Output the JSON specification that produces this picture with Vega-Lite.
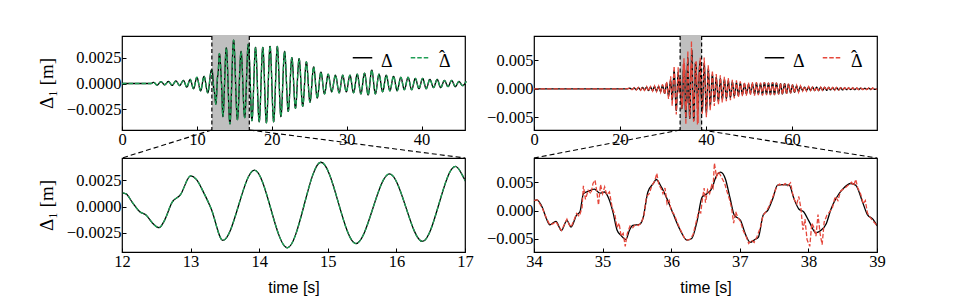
{
"$schema": "https://vega.github.io/schema/vega-lite/v6.json",
"autosize": {"type": "none"},
"padding": {"left": 122, "top": 36, "right": 853, "bottom": 264},
"background": "white",
"config": {
  "view": {"stroke": "black", "strokeWidth": 1.2},
  "font": "Liberation Serif",
  "style": {"guide-label": {"lineHeight": 4}},
  "axis": {"domain": false, "grid": false, "tickSize": -4, "tickColor": "black", "tickWidth": 1, "labelFont": "Liberation Serif", "labelFontSize": 16.5, "labelColor": "black", "labelFlush": false, "labelOverlap": false, "titleColor": "black", "titleFontWeight": "normal"},
  "axisX": {"labelPadding": 5, "titleFont": "Liberation Sans", "titleFontSize": 16, "titlePadding": 10},
  "axisY": {"labelPadding": 5, "titleFont": "Liberation Serif", "titleFontSize": 19, "titlePadding": 10, "titleAngle": 270},
  "legend": {"orient": "none", "legendX": 230, "legendY": 11, "direction": "horizontal", "padding": 0, "labelFont": "Liberation Serif", "labelFontSize": 18, "labelColor": "black", "symbolType": "stroke", "symbolSize": 380, "symbolStrokeWidth": 1.5, "labelOffset": 8, "columnPadding": 14}
},
"datasets": {
  "L": [
    {"t":0,"d":0},{"t":3.9,"d":0},{"t":4.2,"d":0.00012},{"t":4.7,"d":-0.00015},{"t":5.2,"d":0.00018},{"t":5.7,"d":-0.00012},{"t":6.2,"d":0.0002},{"t":6.7,"d":-0.00018},{"t":7.2,"d":0.00025},{"t":7.7,"d":-0.0002},{"t":8.2,"d":0.0003},{"t":8.65,"d":-0.00035},{"t":9.1,"d":0.0004},{"t":9.55,"d":-0.0005},{"t":10.0,"d":0.0006},{"t":10.5,"d":-0.0007},{"t":10.95,"d":0.0007},{"t":11.45,"d":-0.0009},{"t":11.95,"d":0.00132},{"t":12.0,"d":0.0013},{"t":12.06,"d":0.0012},{"t":12.15,"d":0.0004},{"t":12.26,"d":-0.0005},{"t":12.35,"d":-0.0008},{"t":12.45,"d":-0.0016},{"t":12.54,"d":-0.002},{"t":12.62,"d":-0.0013},{"t":12.73,"d":0.0004},{"t":12.85,"d":0.0011},{"t":13.0,"d":0.0029},{"t":13.08,"d":0.0026},{"t":13.2,"d":0.0012},{"t":13.3,"d":-0.0002},{"t":13.47,"d":-0.0032},{"t":13.93,"d":0.00345},{"t":14.41,"d":-0.0039},{"t":14.9,"d":0.0042},{"t":15.41,"d":-0.0035},{"t":15.9,"d":0.0031},{"t":16.38,"d":-0.0033},{"t":16.86,"d":0.0038},{"t":17.0,"d":0.0025},
    {"t":17.35,"d":-0.0036},{"t":17.83,"d":0.0035},{"t":18.32,"d":-0.0037},{"t":18.8,"d":0.0035},{"t":19.28,"d":-0.0038},{"t":19.77,"d":0.0036},{"t":20.25,"d":-0.0037},{"t":20.74,"d":0.0036},{"t":21.22,"d":-0.0032},{"t":21.71,"d":0.0031},{"t":22.2,"d":-0.0027},{"t":22.68,"d":0.0025},{"t":23.16,"d":-0.0024},{"t":23.65,"d":0.0024},{"t":24.13,"d":-0.0022},{"t":24.62,"d":0.0021},{"t":25.1,"d":-0.0018},{"t":25.59,"d":0.0016},{"t":26.07,"d":-0.0014},{"t":26.56,"d":0.0011},{"t":27.04,"d":-0.001},{"t":27.53,"d":0.0009},{"t":28.0,"d":-0.0008},{"t":28.5,"d":0.0008},{"t":29.0,"d":-0.0009},{"t":29.47,"d":0.0008},{"t":29.95,"d":-0.0008},{"t":30.44,"d":0.0008},{"t":30.92,"d":-0.0009},{"t":31.41,"d":0.0009},{"t":31.9,"d":-0.001},{"t":32.38,"d":0.001},{"t":32.87,"d":-0.0011},{"t":33.35,"d":0.0013},{"t":33.83,"d":-0.001},{"t":34.32,"d":0.0009},{"t":34.8,"d":-0.0008},{"t":35.29,"d":0.0008},{"t":35.77,"d":-0.0007},{"t":36.26,"d":0.0007},{"t":36.74,"d":-0.0007},{"t":37.23,"d":0.0006},{"t":37.7,"d":-0.0006},{"t":38.2,"d":0.0006},{"t":38.68,"d":-0.0006},{"t":39.17,"d":0.0005},{"t":39.65,"d":-0.0005},{"t":40.14,"d":0.0005},{"t":40.62,"d":-0.0005},{"t":41.11,"d":0.0004},{"t":41.6,"d":-0.0004},{"t":42.08,"d":0.0004},{"t":42.56,"d":-0.0004},{"t":43.05,"d":0.0003},{"t":43.53,"d":-0.0003},{"t":44.02,"d":0.0003},{"t":44.5,"d":-0.0003},{"t":44.99,"d":0.0002},{"t":45.47,"d":-0.0002},{"t":45.96,"d":0.0002}
  ],
  "RT": [
    {"t":0,"d":0},{"t":21.5,"d":0},{"t":22.3,"d":0.0001},{"t":22.8,"d":-0.0001},{"t":23.3,"d":0.00015},{"t":23.8,"d":-0.00015},{"t":24.3,"d":0.0002},{"t":24.8,"d":-0.0002},{"t":25.25,"d":0.00025},{"t":25.7,"d":-0.0002},{"t":26.2,"d":0.0003},{"t":26.65,"d":-0.0003},{"t":27.1,"d":0.0003},{"t":27.6,"d":-0.0003},{"t":28.05,"d":0.0004},{"t":28.5,"d":-0.0004},{"t":29.0,"d":0.0004},{"t":29.45,"d":-0.0005},{"t":29.9,"d":0.0006},{"t":30.4,"d":-0.0008},{"t":30.85,"d":0.001},{"t":31.3,"d":-0.0012},{"t":31.8,"d":0.0015},{"t":32.15,"d":-0.002},{"t":32.6,"d":0.0032},{"t":33.1,"d":-0.0038},{"t":33.55,"d":0.003},{"t":33.8,"d":-0.0005},
    {"t":34.0,"d":0.0017},{"t":34.04,"d":0.0019},{"t":34.12,"d":0.0006},{"t":34.18,"d":-0.0014},{"t":34.23,"d":-0.0025},{"t":34.32,"d":-0.0019},{"t":34.4,"d":-0.0035},{"t":34.48,"d":-0.0017},{"t":34.54,"d":-0.0029},{"t":34.62,"d":-0.0008},{"t":34.67,"d":-0.0002},{"t":34.72,"d":0.003},{"t":34.79,"d":0.0034},{"t":34.88,"d":0.0038},{"t":34.96,"d":0.0031},{"t":35.03,"d":0.0033},{"t":35.08,"d":0.0024},{"t":35.15,"d":-0.0002},{"t":35.21,"d":-0.0034},{"t":35.27,"d":-0.0044},{"t":35.34,"d":-0.0051},{"t":35.39,"d":-0.0035},{"t":35.44,"d":-0.0026},{"t":35.54,"d":-0.0024},{"t":35.59,"d":-0.0013},{"t":35.66,"d":0.0033},{"t":35.74,"d":0.0048},{"t":35.78,"d":0.0055},{"t":35.86,"d":0.0041},{"t":35.96,"d":0.0015},{"t":36.03,"d":-0.0006},{"t":36.13,"d":-0.0034},{"t":36.23,"d":-0.0052},{"t":36.3,"d":-0.0049},{"t":36.38,"d":-0.0017},{"t":36.45,"d":0.0024},{"t":36.52,"d":0.003},{"t":36.6,"d":0.0041},{"t":36.64,"d":0.0056},{"t":36.72,"d":0.0068},{"t":36.79,"d":0.0056},{"t":36.86,"d":0.0021},{"t":36.92,"d":-0.0008},{"t":37.01,"d":-0.0017},{"t":37.08,"d":-0.0041},{"t":37.15,"d":-0.0056},{"t":37.22,"d":-0.0051},{"t":37.27,"d":-0.0047},{"t":37.34,"d":-0.0008},{"t":37.41,"d":0.0001},{"t":37.48,"d":0.0021},{"t":37.55,"d":0.0045},{"t":37.63,"d":0.0046},{"t":37.72,"d":0.0045},{"t":37.79,"d":0.0021},{"t":37.86,"d":0.0003},{"t":37.93,"d":-0.0002},{"t":38.01,"d":-0.0019},{"t":38.11,"d":-0.0039},{"t":38.18,"d":-0.0035},{"t":38.26,"d":-0.0023},{"t":38.33,"d":0.0003},{"t":38.4,"d":0.0021},{"t":38.5,"d":0.0038},{"t":38.62,"d":0.0048},{"t":38.69,"d":0.0045},{"t":38.79,"d":0.0015},{"t":38.86,"d":-0.0007},{"t":38.94,"d":-0.0015},{"t":39.0,"d":-0.0026},
    {"t":39.15,"d":-0.004},{"t":39.6,"d":0.0045},{"t":40.1,"d":-0.0042},{"t":40.55,"d":0.0035},{"t":41.0,"d":-0.003},{"t":41.5,"d":0.0025},{"t":41.95,"d":-0.0022},{"t":42.4,"d":0.002},{"t":42.9,"d":-0.0022},{"t":43.35,"d":0.0018},{"t":43.8,"d":-0.0018},{"t":44.3,"d":0.0016},{"t":44.75,"d":-0.0017},{"t":45.2,"d":0.0014},{"t":45.7,"d":-0.0015},{"t":46.15,"d":0.0012},{"t":46.6,"d":-0.0013},{"t":47.1,"d":0.0011},{"t":47.55,"d":-0.0012},{"t":48.0,"d":0.001},{"t":48.5,"d":-0.001},{"t":48.95,"d":0.0009},{"t":49.4,"d":-0.0009},{"t":49.9,"d":0.0008},{"t":50.35,"d":-0.0008},{"t":50.8,"d":0.0009},{"t":51.3,"d":-0.0009},{"t":51.75,"d":0.001},{"t":52.2,"d":-0.0009},{"t":52.7,"d":0.0009},{"t":53.15,"d":-0.001},{"t":53.6,"d":0.0011},{"t":54.1,"d":-0.0009},{"t":54.55,"d":0.001},{"t":55.0,"d":-0.001},{"t":55.5,"d":0.0011},{"t":55.95,"d":-0.001},{"t":56.4,"d":0.001},{"t":56.9,"d":-0.0009},{"t":57.35,"d":0.0009},{"t":57.8,"d":-0.0009},{"t":58.3,"d":0.0009},{"t":58.75,"d":-0.0008},{"t":59.2,"d":0.0008},{"t":59.7,"d":-0.0007},{"t":60.15,"d":0.0007},{"t":60.6,"d":-0.0006},{"t":61.1,"d":0.0005},{"t":61.55,"d":-0.0005},{"t":62.0,"d":0.0004},{"t":62.5,"d":-0.0003},{"t":62.95,"d":0.0003},{"t":63.4,"d":-0.0003},{"t":63.9,"d":0.0003},{"t":64.35,"d":-0.0003},{"t":64.8,"d":0.0003},{"t":65.3,"d":-0.0003},{"t":65.75,"d":0.0003},{"t":66.2,"d":-0.0003},{"t":66.7,"d":0.00025},{"t":67.15,"d":-0.00025},{"t":67.6,"d":0.00025},{"t":68.1,"d":-0.00025},{"t":68.55,"d":0.00025},{"t":69.0,"d":-0.0002},{"t":69.5,"d":0.0002},{"t":69.95,"d":-0.0002},{"t":70.4,"d":0.0002},{"t":70.9,"d":-0.0002},{"t":71.35,"d":0.0002},{"t":71.8,"d":-0.0002},{"t":72.3,"d":0.00015},{"t":72.75,"d":-0.00015},{"t":73.2,"d":0.00015},{"t":73.7,"d":-0.00015},{"t":74.15,"d":0.00015},{"t":74.6,"d":-0.00015},{"t":75.1,"d":0.00012},{"t":75.55,"d":-0.00012},{"t":76.0,"d":0.0001},{"t":76.5,"d":-0.0001},{"t":76.95,"d":0.0001},{"t":77.4,"d":-0.0001},{"t":77.9,"d":0.0001},{"t":78.35,"d":-0.0001},{"t":78.8,"d":0.0001},{"t":79.3,"d":-0.0001},{"t":79.8,"d":0}
  ],
  "RE": [
    {"t":0,"d":0},{"t":21.5,"d":0},{"t":22.3,"d":0.00015},{"t":22.8,"d":-0.00015},{"t":23.3,"d":0.0002},{"t":23.8,"d":-0.0002},{"t":24.3,"d":0.00025},{"t":24.8,"d":-0.00025},{"t":25.25,"d":0.0003},{"t":25.7,"d":-0.0003},{"t":26.2,"d":0.0004},{"t":26.65,"d":-0.0004},{"t":27.1,"d":0.0004},{"t":27.6,"d":-0.0004},{"t":28.05,"d":0.0005},{"t":28.5,"d":-0.0005},{"t":29.0,"d":0.0005},{"t":29.45,"d":-0.0006},{"t":29.9,"d":0.0008},{"t":30.4,"d":-0.001},{"t":30.85,"d":0.0013},{"t":31.3,"d":-0.0018},{"t":31.8,"d":0.0022},{"t":32.15,"d":-0.003},{"t":32.6,"d":0.004},{"t":33.1,"d":-0.0045},{"t":33.55,"d":0.0038},{"t":33.8,"d":-0.0008},
    {"t":34.0,"d":0.0018},{"t":34.05,"d":0.0019},{"t":34.12,"d":0.0005},{"t":34.18,"d":-0.0013},{"t":34.23,"d":-0.0025},{"t":34.28,"d":-0.0023},{"t":34.32,"d":-0.0019},{"t":34.36,"d":-0.0028},{"t":34.4,"d":-0.0035},{"t":34.44,"d":-0.0025},{"t":34.48,"d":-0.0015},{"t":34.51,"d":-0.0024},{"t":34.54,"d":-0.0029},{"t":34.58,"d":-0.0018},{"t":34.62,"d":-0.0005},{"t":34.66,"d":-0.001},{"t":34.7,"d":0.0005},{"t":34.72,"d":0.0044},{"t":34.75,"d":0.002},{"t":34.79,"d":0.0036},{"t":34.83,"d":0.003},{"t":34.86,"d":0.0048},{"t":34.89,"d":0.0054},{"t":34.92,"d":0.003},{"t":34.94,"d":0.001},{"t":34.97,"d":0.0046},{"t":35.0,"d":0.003},{"t":35.03,"d":0.0042},{"t":35.06,"d":0.0028},{"t":35.1,"d":0.0033},{"t":35.14,"d":0.0005},{"t":35.18,"d":-0.0008},{"t":35.21,"d":-0.003},{"t":35.24,"d":-0.0022},{"t":35.27,"d":-0.0045},{"t":35.3,"d":-0.004},{"t":35.33,"d":-0.0063},{"t":35.36,"d":-0.004},{"t":35.4,"d":-0.0027},{"t":35.44,"d":-0.003},{"t":35.48,"d":-0.0024},{"t":35.52,"d":-0.0026},{"t":35.56,"d":-0.0022},{"t":35.6,"d":-0.001},{"t":35.64,"d":0.0025},{"t":35.68,"d":0.003},{"t":35.72,"d":0.0045},{"t":35.76,"d":0.0052},{"t":35.79,"d":0.0066},{"t":35.82,"d":0.0045},{"t":35.85,"d":0.004},{"t":35.88,"d":0.003},{"t":35.91,"d":0.004},{"t":35.94,"d":0.0012},{"t":35.97,"d":0.0018},{"t":36.0,"d":0},{"t":36.04,"d":-0.0006},{"t":36.08,"d":-0.0018},{"t":36.12,"d":-0.003},{"t":36.16,"d":-0.004},{"t":36.2,"d":-0.005},{"t":36.24,"d":-0.0052},{"t":36.28,"d":-0.005},{"t":36.32,"d":-0.0042},{"t":36.36,"d":-0.0022},{"t":36.4,"d":-0.0002},{"t":36.43,"d":-0.0004},{"t":36.46,"d":0.0025},{"t":36.48,"d":0.004},{"t":36.5,"d":0.0014},{"t":36.53,"d":0.0037},{"t":36.56,"d":0.003},{"t":36.59,"d":0.0045},{"t":36.61,"d":0.004},{"t":36.63,"d":0.0084},{"t":36.66,"d":0.006},{"t":36.69,"d":0.0069},{"t":36.72,"d":0.0062},{"t":36.75,"d":0.0055},{"t":36.78,"d":0.0048},{"t":36.81,"d":0.0035},{"t":36.85,"d":0.002},{"t":36.88,"d":0.0005},{"t":36.91,"d":-0.0022},{"t":36.94,"d":-0.0002},{"t":36.97,"d":-0.0012},{"t":37.01,"d":-0.0019},{"t":37.05,"d":-0.0035},{"t":37.09,"d":-0.0045},{"t":37.13,"d":-0.0058},{"t":37.17,"d":-0.0052},{"t":37.21,"d":-0.0056},{"t":37.25,"d":-0.0046},{"t":37.3,"d":-0.003},{"t":37.34,"d":-0.0008},{"t":37.38,"d":-0.0002},{"t":37.42,"d":0.0006},{"t":37.46,"d":0.0018},{"t":37.5,"d":0.003},{"t":37.54,"d":0.0043},{"t":37.58,"d":0.0047},{"t":37.62,"d":0.0044},{"t":37.66,"d":0.0048},{"t":37.7,"d":0.0044},{"t":37.74,"d":0.0049},{"t":37.77,"d":0.003},{"t":37.8,"d":0.0018},{"t":37.83,"d":0.0012},{"t":37.86,"d":0.0025},{"t":37.89,"d":0.0005},{"t":37.92,"d":-0.0034},{"t":37.95,"d":-0.0015},{"t":37.98,"d":-0.0051},{"t":38.02,"d":-0.0063},{"t":38.05,"d":-0.0022},{"t":38.08,"d":-0.003},{"t":38.11,"d":-0.0045},{"t":38.14,"d":-0.0007},{"t":38.17,"d":-0.004},{"t":38.2,"d":-0.006},{"t":38.23,"d":-0.002},{"t":38.27,"d":-0.0008},{"t":38.31,"d":-0.0002},{"t":38.35,"d":0.0005},{"t":38.39,"d":0.0025},{"t":38.43,"d":0.0018},{"t":38.47,"d":0.0035},{"t":38.51,"d":0.0038},{"t":38.55,"d":0.0042},{"t":38.59,"d":0.0046},{"t":38.63,"d":0.005},{"t":38.66,"d":0.0044},{"t":38.69,"d":0.0055},{"t":38.72,"d":0.004},{"t":38.76,"d":0.003},{"t":38.8,"d":0.0012},{"t":38.83,"d":0.0018},{"t":38.86,"d":-0.0004},{"t":38.9,"d":-0.0012},{"t":38.94,"d":-0.0018},{"t":38.97,"d":-0.0022},{"t":39.0,"d":-0.0027},
    {"t":39.15,"d":-0.0045},{"t":39.6,"d":0.0055},{"t":40.1,"d":-0.005},{"t":40.55,"d":0.0042},{"t":41.0,"d":-0.0038},{"t":41.5,"d":0.0032},{"t":41.95,"d":-0.003},{"t":42.4,"d":0.0026},{"t":42.9,"d":-0.0028},{"t":43.35,"d":0.0024},{"t":43.8,"d":-0.0024},{"t":44.3,"d":0.0021},{"t":44.75,"d":-0.0022},{"t":45.2,"d":0.0019},{"t":45.7,"d":-0.002},{"t":46.15,"d":0.0016},{"t":46.6,"d":-0.0017},{"t":47.1,"d":0.0015},{"t":47.55,"d":-0.0015},{"t":48.0,"d":0.0013},{"t":48.5,"d":-0.0013},{"t":48.95,"d":0.0012},{"t":49.4,"d":-0.0012},{"t":49.9,"d":0.0011},{"t":50.35,"d":-0.0011},{"t":50.8,"d":0.0012},{"t":51.3,"d":-0.0012},{"t":51.75,"d":0.0012},{"t":52.2,"d":-0.0011},{"t":52.7,"d":0.0011},{"t":53.15,"d":-0.0012},{"t":53.6,"d":0.0012},{"t":54.1,"d":-0.0011},{"t":54.55,"d":0.0011},{"t":55.0,"d":-0.0011},{"t":55.5,"d":0.0012},{"t":55.95,"d":-0.0011},{"t":56.4,"d":0.0011},{"t":56.9,"d":-0.001},{"t":57.35,"d":0.001},{"t":57.8,"d":-0.001},{"t":58.3,"d":0.0009},{"t":58.75,"d":-0.0009},{"t":59.2,"d":0.0009},{"t":59.7,"d":-0.0008},{"t":60.15,"d":0.0008},{"t":60.6,"d":-0.0007},{"t":61.1,"d":0.0006},{"t":61.55,"d":-0.0006},{"t":62.0,"d":0.0005},{"t":62.5,"d":-0.0004},{"t":62.95,"d":0.0004},{"t":63.4,"d":-0.0004},{"t":63.9,"d":0.0004},{"t":64.35,"d":-0.0003},{"t":64.8,"d":0.0003},{"t":65.3,"d":-0.0003},{"t":65.75,"d":0.0003},{"t":66.2,"d":-0.0003},{"t":66.7,"d":0.0003},{"t":67.15,"d":-0.0003},{"t":67.6,"d":0.0003},{"t":68.1,"d":-0.00025},{"t":68.55,"d":0.00025},{"t":69.0,"d":-0.00025},{"t":69.5,"d":0.00025},{"t":69.95,"d":-0.00025},{"t":70.4,"d":0.00025},{"t":70.9,"d":-0.0002},{"t":71.35,"d":0.0002},{"t":71.8,"d":-0.0002},{"t":72.3,"d":0.0002},{"t":72.75,"d":-0.0002},{"t":73.2,"d":0.0002},{"t":73.7,"d":-0.0002},{"t":74.15,"d":0.0002},{"t":74.6,"d":-0.0002},{"t":75.1,"d":0.00015},{"t":75.55,"d":-0.00015},{"t":76.0,"d":0.00015},{"t":76.5,"d":-0.00015},{"t":76.95,"d":0.00015},{"t":77.4,"d":-0.00015},{"t":77.9,"d":0.00015},{"t":78.35,"d":-0.00015},{"t":78.8,"d":0.00015},{"t":79.3,"d":-0.00015},{"t":79.8,"d":0}
  ]
},
"columns": 2,
"spacing": {"row": 28, "column": 69},
"bounds": "flush",
"resolve": {"scale": {"color": "independent", "strokeDash": "independent"}, "legend": {"color": "independent", "strokeDash": "independent"}},
"concat": [
  {
    "width": 343, "height": 94,
    "layer": [
      {"data": {"values": [{"t": 12, "t2": 17}]}, "mark": {"type": "rect", "color": "#bfbfbf"},
       "encoding": {"x": {"field": "t", "type": "quantitative", "scale": {"domain": [0, 45.8], "nice": false, "zero": false}, "axis": {"values": [0, 10, 20, 30, 40], "title": null}}, "x2": {"field": "t2"}}},
      {"data": {"name": "L"}, "mark": {"type": "line", "interpolate": "monotone", "strokeWidth": 1.3},
       "encoding": {"x": {"field": "t", "type": "quantitative"},
         "y": {"field": "d", "type": "quantitative", "scale": {"domain": [-0.0045, 0.0046], "nice": false, "zero": false}, "axis": {"values": [-0.0025, 0, 0.0025], "format": ".4f", "title": "\u0394\u2081 [m]"}},
         "color": {"datum": "\u0394", "type": "nominal", "scale": {"domain": ["\u0394", "\u0394\u0302"], "range": ["black", "#1f9e55"]}, "legend": {"title": null, "labelExpr": "datum.label == '\u0394' ? ['', '\u0394'] : ['\u2009\u02c6', '\u0394']"}},
         "strokeDash": {"datum": "\u0394", "type": "nominal", "scale": {"domain": ["\u0394", "\u0394\u0302"], "range": [[1, 0], [4.5, 2]]}, "legend": {"title": null, "labelExpr": "datum.label == '\u0394' ? ['', '\u0394'] : ['\u2009\u02c6', '\u0394']"}}}},
      {"data": {"name": "L"}, "mark": {"type": "line", "interpolate": "monotone", "strokeWidth": 1.4},
       "encoding": {"x": {"field": "t", "type": "quantitative"}, "y": {"field": "d", "type": "quantitative"},
         "color": {"datum": "\u0394\u0302", "type": "nominal"}, "strokeDash": {"datum": "\u0394\u0302", "type": "nominal"}}},
      {"data": {"values": [{"t": 12}, {"t": 17}]}, "mark": {"type": "rule", "color": "black", "strokeDash": [4, 2.5], "strokeWidth": 1.2},
       "encoding": {"x": {"field": "t", "type": "quantitative"}}},
      {"data": {"values": [{"t": 12, "d": -0.0045, "t2": 0, "d2": -0.00721}, {"t": 17, "d": -0.0045, "t2": 45.8, "d2": -0.00721}]},
       "mark": {"type": "rule", "color": "black", "strokeDash": [5, 3], "strokeWidth": 1.1},
       "encoding": {"x": {"field": "t", "type": "quantitative"}, "y": {"field": "d", "type": "quantitative"}, "x2": {"field": "t2"}, "y2": {"field": "d2"}}}
    ]
  },
  {
    "width": 343, "height": 94,
    "layer": [
      {"data": {"values": [{"t": 34, "t2": 39}]}, "mark": {"type": "rect", "color": "#bfbfbf"},
       "encoding": {"x": {"field": "t", "type": "quantitative", "scale": {"domain": [0, 79.8], "nice": false, "zero": false}, "axis": {"values": [0, 20, 40, 60], "title": null}}, "x2": {"field": "t2"}}},
      {"data": {"name": "RT"}, "mark": {"type": "line", "interpolate": "monotone", "strokeWidth": 1.3},
       "encoding": {"x": {"field": "t", "type": "quantitative"},
         "y": {"field": "d", "type": "quantitative", "scale": {"domain": [-0.00725, 0.0093], "nice": false, "zero": false}, "axis": {"values": [-0.005, 0, 0.005], "format": ".3f", "title": null}},
         "color": {"datum": "\u0394", "type": "nominal", "scale": {"domain": ["\u0394", "\u0394\u0302"], "range": ["black", "#e5473b"]}, "legend": {"title": null, "labelExpr": "datum.label == '\u0394' ? ['', '\u0394'] : ['\u2009\u02c6', '\u0394']"}},
         "strokeDash": {"datum": "\u0394", "type": "nominal", "scale": {"domain": ["\u0394", "\u0394\u0302"], "range": [[1, 0], [4.5, 2]]}, "legend": {"title": null, "labelExpr": "datum.label == '\u0394' ? ['', '\u0394'] : ['\u2009\u02c6', '\u0394']"}}}},
      {"data": {"name": "RE"}, "mark": {"type": "line", "strokeWidth": 1.3},
       "encoding": {"x": {"field": "t", "type": "quantitative"}, "y": {"field": "d", "type": "quantitative"},
         "color": {"datum": "\u0394\u0302", "type": "nominal"}, "strokeDash": {"datum": "\u0394\u0302", "type": "nominal"}}},
      {"data": {"values": [{"t": 34}, {"t": 39}]}, "mark": {"type": "rule", "color": "black", "strokeDash": [4, 2.5], "strokeWidth": 1.2},
       "encoding": {"x": {"field": "t", "type": "quantitative"}}},
      {"data": {"values": [{"t": 34, "d": -0.00725, "t2": 0, "d2": -0.01218}, {"t": 39, "d": -0.00725, "t2": 79.8, "d2": -0.01218}]},
       "mark": {"type": "rule", "color": "black", "strokeDash": [5, 3], "strokeWidth": 1.1},
       "encoding": {"x": {"field": "t", "type": "quantitative"}, "y": {"field": "d", "type": "quantitative"}, "x2": {"field": "t2"}, "y2": {"field": "d2"}}}
    ]
  },
  {
    "width": 343, "height": 94,
    "layer": [
      {"data": {"name": "L"}, "mark": {"type": "line", "interpolate": "monotone", "color": "black", "strokeWidth": 1.3, "clip": true},
       "encoding": {"x": {"field": "t", "type": "quantitative", "scale": {"domain": [12, 17], "nice": false, "zero": false}, "axis": {"values": [12, 13, 14, 15, 16, 17], "format": "d", "title": "time [s]"}},
         "y": {"field": "d", "type": "quantitative", "scale": {"domain": [-0.0043, 0.0046], "nice": false, "zero": false}, "axis": {"values": [-0.0025, 0, 0.0025], "format": ".4f", "title": "\u0394\u2081 [m]"}}}},
      {"data": {"name": "L"}, "mark": {"type": "line", "interpolate": "monotone", "color": "#1f9e55", "strokeDash": [4.5, 2], "strokeWidth": 1.3, "clip": true},
       "encoding": {"x": {"field": "t", "type": "quantitative"}, "y": {"field": "d", "type": "quantitative"}}}
    ]
  },
  {
    "width": 343, "height": 94,
    "layer": [
      {"data": {"name": "RT"}, "mark": {"type": "line", "interpolate": "monotone", "color": "black", "strokeWidth": 1.3, "clip": true},
       "encoding": {"x": {"field": "t", "type": "quantitative", "scale": {"domain": [34, 39], "nice": false, "zero": false}, "axis": {"values": [34, 35, 36, 37, 38, 39], "format": "d", "title": "time [s]"}},
         "y": {"field": "d", "type": "quantitative", "scale": {"domain": [-0.0073, 0.0093], "nice": false, "zero": false}, "axis": {"values": [-0.005, 0, 0.005], "format": ".3f", "title": null}}}},
      {"data": {"name": "RE"}, "mark": {"type": "line", "color": "#e5473b", "strokeDash": [4.5, 2], "strokeWidth": 1.3, "clip": true},
       "encoding": {"x": {"field": "t", "type": "quantitative"}, "y": {"field": "d", "type": "quantitative"}}}
    ]
  }
]
}
